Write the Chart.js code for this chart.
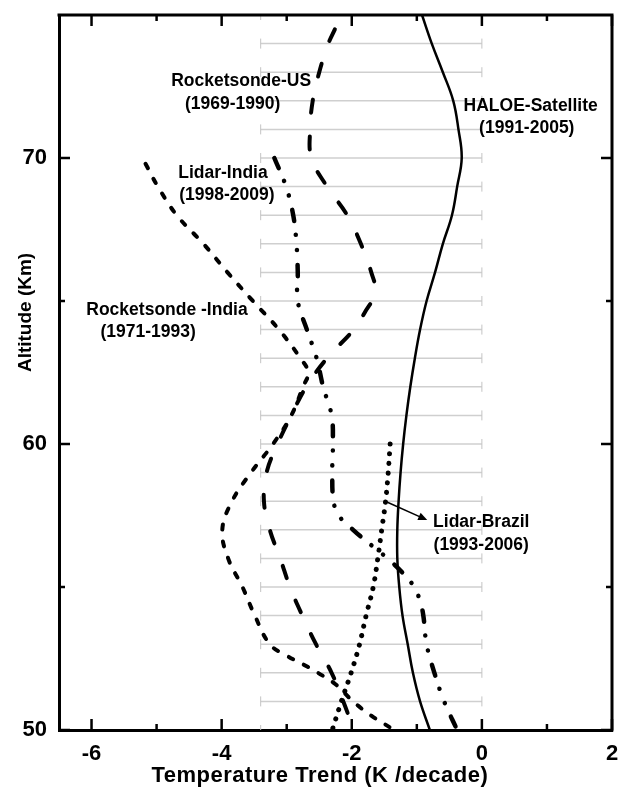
<!DOCTYPE html>
<html>
<head>
<meta charset="utf-8">
<script src="https://cdn.jsdelivr.net/npm/chart.js@4.4.0/dist/chart.umd.min.js"></script>
<style>
  html, body { margin: 0; padding: 0; background: #fff; }
</style>
</head>
<body>
<canvas id="trendChart" width="621" height="796"></canvas>
<script>
// axis ticks
const xTickValues = [-6, -4, -2, 0, 2]
const xMinorTicks = [-5, -3, -1, 1]
const yTickValues = [50, 60, 70]
const yMinorTicks = [55, 65]

// HALOE-Satellite (1991-2005), solid
const haloeAlt   = [75, 74, 73, 72, 71, 70, 69, 68, 67, 66, 65, 64, 63, 62, 61, 60, 59, 58, 57, 56, 55, 54, 53, 52, 51, 50]
const haloeTrend = [-0.92, -0.77, -0.60, -0.44, -0.36, -0.31, -0.38, -0.46, -0.60, -0.72, -0.85, -0.95, -1.03, -1.10, -1.16, -1.21, -1.25, -1.28, -1.30, -1.30, -1.27, -1.22, -1.14, -1.06, -0.95, -0.80]

// Rocketsonde-US (1969-1990), long dash
const rsUsAlt   = [74.5, 74, 73, 72, 71, 70, 69, 68, 67, 66, 65.3, 64.6, 64, 63, 62, 61, 60, 59, 58, 57, 56, 55, 54, 53, 52, 51, 50.2]
const rsUsTrend = [-2.26, -2.36, -2.50, -2.60, -2.64, -2.62, -2.38, -2.07, -1.86, -1.70, -1.64, -1.80, -1.97, -2.38, -2.70, -2.93, -3.14, -3.31, -3.35, -3.26, -3.10, -2.95, -2.76, -2.55, -2.31, -2.13, -2.00]

// Rocketsonde-India (1971-1993), short dash
const rsIndiaAlt   = [69.8, 69, 68, 67, 66, 65, 64, 63, 62.5, 62, 61, 60, 59, 58, 57, 56, 55, 54, 53, 52.6, 52.3, 52, 51.6, 51, 50.5, 50.1]
const rsIndiaTrend = [-5.17, -4.98, -4.69, -4.28, -3.91, -3.52, -3.12, -2.79, -2.67, -2.75, -2.93, -3.21, -3.55, -3.84, -3.99, -3.90, -3.68, -3.49, -3.26, -3.00, -2.75, -2.52, -2.25, -1.98, -1.70, -1.42]

// Lidar-India (1998-2009), dash dot dot
const lidarIndiaAlt   = [70, 69, 68, 67, 66, 65, 64, 63, 62, 61, 60, 59, 58, 57.5, 57, 56.5, 56, 55.5, 55, 54.5, 54, 53, 52, 51, 50]
const lidarIndiaTrend = [-3.19, -3.01, -2.90, -2.85, -2.83, -2.83, -2.69, -2.54, -2.44, -2.31, -2.29, -2.30, -2.28, -2.20, -1.98, -1.72, -1.45, -1.22, -1.04, -0.95, -0.90, -0.85, -0.73, -0.58, -0.38]

// Lidar-Brazil (1993-2006), dotted
const lidarBrazilAlt   = [60, 59, 58, 57, 56, 55, 54, 53, 52, 51, 50]
const lidarBrazilTrend = [-1.41, -1.44, -1.48, -1.54, -1.60, -1.67, -1.78, -1.88, -2.01, -2.16, -2.30]

// text placed on the plot (x, y in data units, baseline)
const notes = [
  { text: 'Rocketsonde-US', x: -3.70, y: 72.52 },
  { text: '(1969-1990)', x: -3.83, y: 71.71 },
  { text: 'Lidar-India', x: -3.98, y: 69.30 },
  { text: '(1998-2009)', x: -3.92, y: 68.53 },
  { text: 'Rocketsonde -India', x: -4.84, y: 64.51 },
  { text: '(1971-1993)', x: -5.13, y: 63.74 },
  { text: 'HALOE-Satellite', x: 0.75, y: 71.64 },
  { text: '(1991-2005)', x: 0.69, y: 70.87 },
  { text: 'Lidar-Brazil', x: -0.01, y: 57.10 },
  { text: '(1993-2006)', x: -0.01, y: 56.29 }
]
const arrowFrom = [-1.46, 57.97]
const arrowTo = [-0.84, 57.34]

const bandFrom = -3.4
const bandTo = 0

const FONT = '"Liberation Sans", Arial, sans-serif'
Chart.defaults.font.family = FONT
Chart.defaults.color = '#000'

function series(alt, trend, style) {
  return Object.assign({
    data: alt.map((a, i) => ({ x: trend[i], y: a })),
    showLine: true,
    borderColor: '#000',
    borderWidth: 4,
    borderCapStyle: 'round',
    pointRadius: 0,
    tension: 0.4,
    fill: false
  }, style)
}

const decor = {
  id: 'decor',
  beforeDatasetsDraw(chart) {
    const { ctx, chartArea: a, scales: { x, y } } = chart
    const gx0 = x.getPixelForValue(bandFrom), gx1 = x.getPixelForValue(bandTo)
    ctx.save()
    ctx.strokeStyle = '#cfcfcf'
    ctx.lineWidth = 1.5
    for (let alt = 51; alt <= 74; alt++) {
      const py = y.getPixelForValue(alt)
      ctx.beginPath(); ctx.moveTo(gx0, py); ctx.lineTo(gx1, py); ctx.stroke()
    }
    const step = y.getPixelForValue(74) - y.getPixelForValue(75)
    ctx.strokeStyle = '#c4c4c4'
    ctx.lineWidth = 1
    ctx.setLineDash([10, step - 10])
    ctx.lineDashOffset = 5
    ;[gx0, gx1].forEach(px => {
      ctx.beginPath(); ctx.moveTo(px, a.top); ctx.lineTo(px, a.bottom); ctx.stroke()
    })
    ctx.restore()
  },
  afterDraw(chart) {
    const { ctx, chartArea: a, scales: { x, y } } = chart
    ctx.save()
    // top and right frame
    ctx.strokeStyle = '#000'
    ctx.lineWidth = 3
    ctx.beginPath()
    ctx.moveTo(a.left - 1.5, a.top); ctx.lineTo(a.right, a.top); ctx.lineTo(a.right, a.bottom + 1.5)
    ctx.stroke()

    // inward ticks
    ctx.lineWidth = 2.5
    const seg = (x0, y0, x1, y1) => { ctx.beginPath(); ctx.moveTo(x0, y0); ctx.lineTo(x1, y1); ctx.stroke() }
    const xt = (vals, len) => vals.forEach(v => {
      const px = x.getPixelForValue(v)
      seg(px, a.bottom, px, a.bottom - len)
      seg(px, a.top, px, a.top + len)
    })
    const yt = (vals, len) => vals.forEach(v => {
      const py = y.getPixelForValue(v)
      seg(a.left, py, a.left + len, py)
      seg(a.right, py, a.right - len, py)
    })
    xt(xTickValues, 11); xt(xMinorTicks, 6)
    yt(yTickValues, 11); yt(yMinorTicks, 6)

    // labels
    ctx.fillStyle = '#000'
    ctx.font = 'bold 17.5px ' + FONT
    ctx.textAlign = 'center'
    ctx.textBaseline = 'alphabetic'
    notes.forEach(n => ctx.fillText(n.text, x.getPixelForValue(n.x), y.getPixelForValue(n.y)))

    // arrow to Lidar-Brazil
    const x0 = x.getPixelForValue(arrowFrom[0]), y0 = y.getPixelForValue(arrowFrom[1])
    const x1 = x.getPixelForValue(arrowTo[0]), y1 = y.getPixelForValue(arrowTo[1])
    const ang = Math.atan2(y1 - y0, x1 - x0)
    ctx.lineWidth = 1.5
    seg(x0, y0, x1 - 6 * Math.cos(ang), y1 - 6 * Math.sin(ang))
    ctx.beginPath()
    ctx.moveTo(x1, y1)
    ctx.lineTo(x1 - 9 * Math.cos(ang) + 4 * Math.sin(ang), y1 - 9 * Math.sin(ang) - 4 * Math.cos(ang))
    ctx.lineTo(x1 - 9 * Math.cos(ang) - 4 * Math.sin(ang), y1 - 9 * Math.sin(ang) + 4 * Math.cos(ang))
    ctx.closePath()
    ctx.fill()

    // x axis title (sits a little left of the axis centre in the original)
    ctx.font = 'bold 22px ' + FONT
    ctx.letterSpacing = '0.5px'
    ctx.textBaseline = 'middle'
    ctx.fillText('Temperature Trend (K /decade)', x.getPixelForValue(-2.49), 776)
    ctx.letterSpacing = '0px'

    // y axis title
    ctx.translate(26, y.getPixelForValue(64.6))
    ctx.rotate(-Math.PI / 2)
    ctx.font = 'bold 19px ' + FONT
    ctx.fillText('Altitude (Km)', 0, 0)
    ctx.restore()
  }
}

const trendChart = new Chart(document.getElementById('trendChart'), {
  type: 'scatter',
  data: {
    datasets: [
      series(haloeAlt, haloeTrend, { borderWidth: 2.5, borderCapStyle: 'butt' }),
      series(rsUsAlt, rsUsTrend, { borderDash: [13, 24] }),
      series(rsIndiaAlt, rsIndiaTrend, { borderDash: [5, 12] }),
      series(lidarIndiaAlt, lidarIndiaTrend, { borderWidth: 4.5, borderDash: [11, 14, 0.1, 15, 0.1, 15] }),
      series(lidarBrazilAlt, lidarBrazilTrend, { borderWidth: 5, borderDash: [0.1, 9.6] })
    ]
  },
  options: {
    responsive: false,
    animation: false,
    layout: { padding: { top: 15, right: 9, left: 0, bottom: 0 } },
    plugins: { legend: { display: false }, tooltip: { enabled: false } },
    scales: {
      x: {
        type: 'linear',
        position: 'bottom',
        min: -6.5,
        max: 2,
        afterBuildTicks: s => { s.ticks = xTickValues.map(v => ({ value: v })) },
        afterFit: s => { s.height = 66; s.paddingLeft = 0; s.paddingRight = 0 },
        grid: { display: false, drawTicks: false },
        border: { display: true, color: '#000', width: 3 },
        ticks: { font: { size: 22, weight: 'bold' }, color: '#000', padding: 11, maxRotation: 0, autoSkip: false }
      },
      y: {
        type: 'linear',
        position: 'left',
        min: 50,
        max: 75,
        afterBuildTicks: s => { s.ticks = yTickValues.map(v => ({ value: v })) },
        afterFit: s => { s.width = 59; s.paddingTop = 0; s.paddingBottom = 0 },
        grid: { display: false, drawTicks: false },
        border: { display: true, color: '#000', width: 3 },
        ticks: { font: { size: 22, weight: 'bold' }, color: '#000', padding: 12, autoSkip: false }
      }
    }
  },
  plugins: [decor]
})
</script>
</body>
</html>
